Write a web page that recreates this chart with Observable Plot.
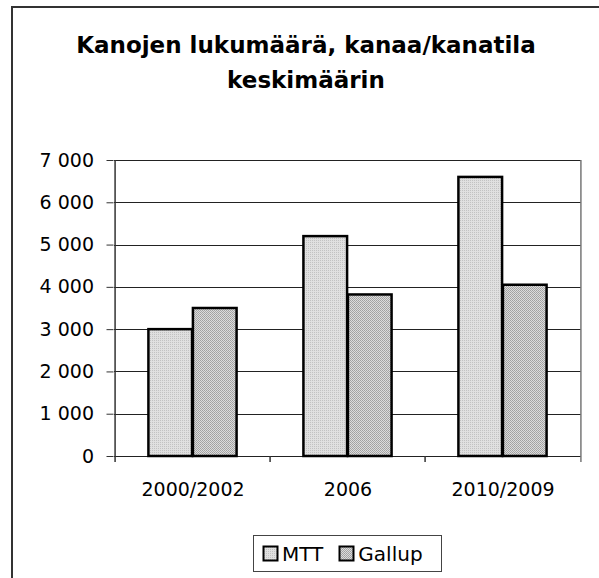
<!DOCTYPE html>
<html>
<head>
<meta charset="utf-8">
<script src="https://cdn.jsdelivr.net/npm/d3@7"></script>
<script src="https://cdn.jsdelivr.net/npm/@observablehq/plot@0.6"></script>
<style>
  html, body { margin: 0; padding: 0; background: #fff; overflow: hidden; }
  #wrap { position: relative; width: 599px; height: 578px; overflow: hidden; font-family: "DejaVu Sans", sans-serif; }
  #frame { position: absolute; left: 11px; top: 6px; width: 640px; height: 640px; border: 2px solid #333; box-sizing: border-box; }
  .title { position: absolute; left: 12px; width: 588px; text-align: center; font-weight: bold; font-size: 23px; line-height: 35px; color: #000; white-space: nowrap; }
  #chart { position: absolute; left: 0; top: 0; }
  #legend { position: absolute; left: 253px; top: 535px; width: 189px; height: 37px; border: 1px solid #444; box-sizing: border-box; display: flex; align-items: center; padding-left: 8px; font-size: 20px; color: #000; }
  .item { display: flex; align-items: center; }
  .item svg { margin-right: 3px; }
</style>
</head>
<body>
<svg width="0" height="0" style="position:absolute">
  <defs>
    <pattern id="patMTT" width="2" height="2" patternUnits="userSpaceOnUse">
      <rect width="2" height="2" fill="#e0e0e0"/>
      <rect x="0" y="0" width="1" height="1" fill="#c2c2c2"/>
    </pattern>
    <pattern id="patGallup" width="2" height="2" patternUnits="userSpaceOnUse">
      <rect width="2" height="2" fill="#dcdcdc"/>
      <rect x="0" y="0" width="1" height="1" fill="#a0a0a0"/>
      <rect x="1" y="1" width="1" height="1" fill="#a8a8a8"/>
    </pattern>
  </defs>
</svg>
<div id="wrap">
  <div id="frame"></div>
  <div class="title" style="top:28px">Kanojen lukumäärä, kanaa/kanatila</div>
  <div class="title" style="top:63px">keskimäärin</div>
  <div id="chart"></div>
  <div id="legend"></div>
</div>
<script>
const categories = ["2000/2002", "2006", "2010/2009"];
const seriesNames = ["MTT", "Gallup"];
const mttValues = [3000, 5200, 6600];
const gallupValues = [3500, 3820, 4050];
const yTicks = [0, 1000, 2000, 3000, 4000, 5000, 6000, 7000];
const patterns = {MTT: "url(#patMTT)", Gallup: "url(#patGallup)"};

const mttData = categories.map((c, i) => ({category: c, series: "MTT", value: mttValues[i]}));
const gallupData = categories.map((c, i) => ({category: c, series: "Gallup", value: gallupValues[i]}));

const W = 599, H = 520, mL = 113.5, mR = 18, mT = 160, mB = 64;
const bw = (W - mL - mR) / categories.length;
const barW = 44.5;
const fmt = d => d3.format(",")(d).replace(/,/g, " ");

const chart = Plot.plot({
  width: W,
  height: H,
  marginLeft: mL,
  marginRight: mR,
  marginTop: mT,
  marginBottom: mB,
  style: {fontFamily: "DejaVu Sans, sans-serif", fontSize: "19px", color: "#000", background: "transparent", overflow: "visible"},
  x: {domain: categories, padding: 0, axis: null, label: null},
  y: {domain: [0, 7000], axis: null, label: null},
  marks: [
    Plot.ruleY(yTicks, {stroke: "#222", strokeWidth: 1, shapeRendering: "crispEdges"}),
    Plot.barY(mttData, {x: "category", y: "value", fill: patterns.MTT, stroke: "#000", strokeWidth: 2.5, insetLeft: bw / 2 - barW, insetRight: bw / 2}),
    Plot.barY(gallupData, {x: "category", y: "value", fill: patterns.Gallup, stroke: "#000", strokeWidth: 2.5, insetLeft: bw / 2, insetRight: bw / 2 - barW}),
    Plot.ruleX([categories[0]], {x: d => d, dx: -bw / 2, insetBottom: -6, stroke: "#333", strokeWidth: 1.5}),
    Plot.ruleX([categories[categories.length - 1]], {x: d => d, dx: bw / 2, insetBottom: -6, stroke: "#777", strokeWidth: 1.5}),
    Plot.ruleX(categories.slice(1), {x: d => d, dx: -bw / 2, insetTop: H - mT - mB, insetBottom: -6, stroke: "#333", strokeWidth: 1.5}),
    Plot.axisY({ticks: yTicks, tickSize: 7, tickPadding: 13, tickFormat: fmt, stroke: "#333", fill: "#000", fontSize: 19, label: null}),
    Plot.axisX({tickSize: 0, tickPadding: 26, fill: "#000", fontSize: 19, label: null})
  ]
});
document.getElementById("chart").appendChild(chart);

const legend = document.getElementById("legend");
seriesNames.forEach((s, i) => {
  const item = document.createElement("div");
  item.className = "item";
  if (i > 0) item.style.marginLeft = "15px";
  item.innerHTML = `<svg width="17" height="17"><rect x="1.5" y="1.5" width="14" height="14" fill="${patterns[s]}" stroke="#000" stroke-width="2"/></svg><span>${s}</span>`;
  legend.appendChild(item);
});
</script>
</body>
</html>
